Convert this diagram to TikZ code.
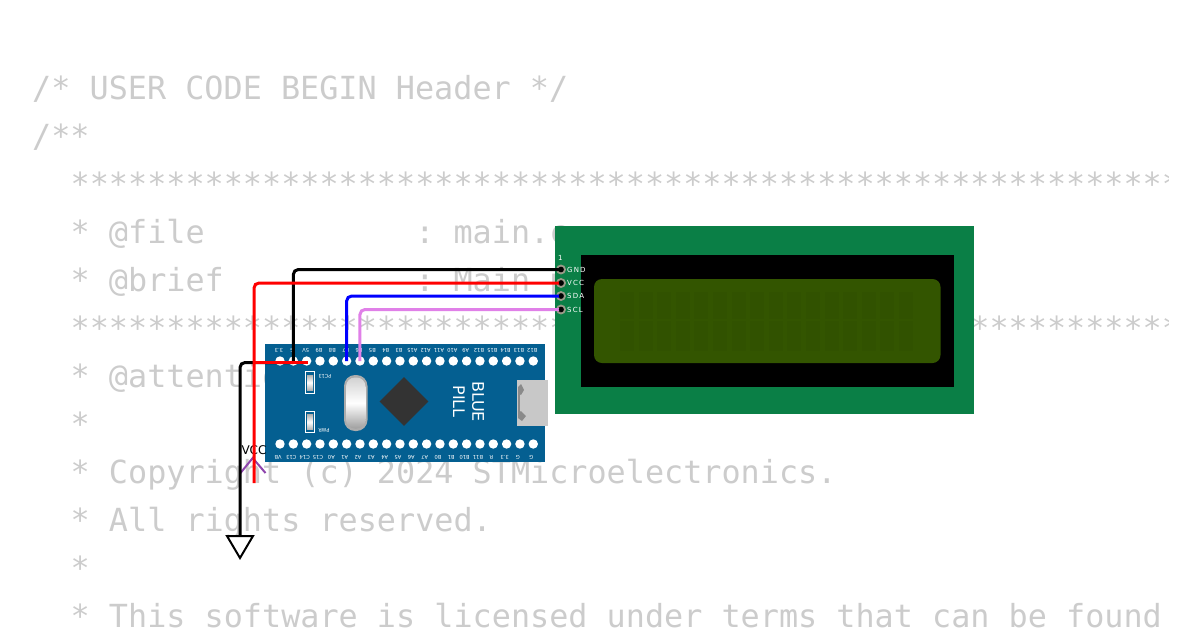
\documentclass[tikz,border=0pt]{standalone}
\usepackage{fontspec}
\setmainfont{DejaVu Sans}
\newfontfamily\monof{DejaVu Sans Mono}
\usetikzlibrary{shapes.geometric}
\definecolor{bgtext}{HTML}{CCCCCC}
\definecolor{pillblue}{HTML}{045F91}
\definecolor{lcdgreen}{HTML}{0A7F46}
\definecolor{lcdscreen}{HTML}{335500}
\definecolor{lcdcell}{HTML}{315200}
\definecolor{padgray}{HTML}{9A9A88}
\definecolor{usbgray}{HTML}{C8C8C8}
\definecolor{usbdark}{HTML}{8A8A8A}
\definecolor{chipdark}{HTML}{333333}
\definecolor{vccpurple}{HTML}{8E44AD}
\definecolor{sclpink}{HTML}{E080E8}
\tikzset{
  x=1pt,y=-1pt,
  codeline/.style={anchor=base west,inner sep=0,text=bgtext,font=\monof\frenchspacing\fontsize{31.8}{32}\selectfont},
  hole/.style={circle,fill=white,draw=none,minimum size=9.4pt,inner sep=0},
  toplabel/.style={rotate=180,inner sep=0,text=white,font=\fontsize{5.2}{6}\selectfont},
  silk/.style={inner sep=0,text=white},
  lcdpad/.style={circle,fill=black,draw=padgray,line width=1.8pt,minimum size=8pt,inner sep=0},
  paddot/.style={circle,fill=black,draw=none,minimum size=4.4pt,inner sep=0},
  lcdlabel/.style={anchor=west,inner sep=0,text=white,font=\fontsize{7}{7}\selectfont},
  wire/.style={line width=3pt,rounded corners=5pt},
  ledbox/.style={draw=white,line width=1pt,minimum width=9pt,minimum height=21.5pt,inner sep=0,fill=pillblue}
}
\begin{document}
\begin{tikzpicture}
\useasboundingbox (0,0) rectangle (1200,630);
\fill[white] (0,0) rectangle (1200,630);
% background code
\begin{scope}
\clip (0,0) rectangle (1168,630);
\node[codeline] (c1) at (32,99) {/* USER CODE BEGIN Header */};
\node[codeline] (c2) at (32,147) {/**};
\node[codeline] (c3) at (70.5,195) {**********************************************************};
\node[codeline] (c4) at (70.5,243) {* @file~~~~~~~~~~~: main.c};
\node[codeline] (c5) at (70.5,291) {* @brief~~~~~~~~~~: Main program body};
\node[codeline] (c6) at (70.5,339) {**********************************************************};
\node[codeline] (c7) at (70.5,387) {* @attention};
\node[codeline] (c8) at (70.5,435) {*};
\node[codeline] (c9) at (70.5,483) {* Copyright (c) 2024 STMicroelectronics.};
\node[codeline] (c10) at (70.5,531) {* All rights reserved.};
\node[codeline] (c11) at (70.5,579) {*};
\node[codeline] (c12) at (70.5,627) {* This software is licensed under terms that can be found};
\end{scope}
% LCD
\fill[lcdgreen] (555,226) rectangle (973.5,413.5);
\fill[black] (581,255) rectangle (954,387);
\fill[lcdscreen,rounded corners=8pt] (594,279) rectangle (940.5,363);
\foreach \i in {0,...,15}{
  \fill[lcdcell] ({620+\i*18.6},292) rectangle ({634+\i*18.6},319);
  \fill[lcdcell] ({620+\i*18.6},321) rectangle ({634+\i*18.6},351);
}
\node[lcdlabel] (one) at (558,258) {1};
\node[lcdpad] (gnd) at (561,269.5) {};
\node[lcdpad] (vcc) at (561,283) {};
\node[lcdpad] (sda) at (561,296) {};
\node[lcdpad] (scl) at (561,309.5) {};
\node[lcdlabel] (lg) at (567,269.5) {G\,N\,D};
\node[lcdlabel] (lv) at (567,282.5) {V\,C\,C};
\node[lcdlabel] (ls) at (567,296) {S\,D\,A};
\node[lcdlabel] (lc) at (567,309.5) {S\,C\,L};
% Blue pill
\fill[pillblue] (265,344) rectangle (545,462);
\foreach \i in {1,...,20}{
  \node[hole] (t\i) at ({280+(\i-1)*13.33},361) {};
  \node[hole] (b\i) at ({280+(\i-1)*13.33},444) {};
}
\foreach \i/\t in {1/3.3,2/G,3/5V,4/B9,5/B8,6/B7,7/B6,8/B5,9/B4,10/B3,11/A15,12/A12,13/A11,14/A10,15/A9,16/B12,17/B15,18/B14,19/B13,20/B12}{
  \node[toplabel] (tl\i) at ({279+(\i-1)*13.33},350) {\t};
}
\foreach \i/\t in {1/VB,2/C13,3/C14,4/C15,5/A0,6/A1,7/A2,8/A3,9/A4,10/A5,11/A6,12/A7,13/B0,14/B1,15/B10,16/B11,17/R,18/3.3,19/G,20/G}{
  \node[toplabel] (bl\i) at ({278+(\i-1)*13.33},457) {\t};
}
\node[ledbox] (led1) at (310,382.5) {};
\shade[top color=gray!60,bottom color=gray!60,middle color=white] (307,375) rectangle (313,390);
\node[ledbox] (led2) at (310,422) {};
\shade[top color=gray!60,bottom color=gray!60,middle color=white] (307,414.5) rectangle (313,429.5);
\node[silk,rotate=180,font=\fontsize{5}{5}\selectfont] (pc13) at (325,376.5) {PC13};
\node[silk,rotate=180,font=\fontsize{5}{5}\selectfont] (pwr) at (324,430) {PWR};
% crystal
\fill[gray!65,rounded corners=11pt] (344,375) rectangle (367.5,431);
\shade[top color=gray!35,bottom color=gray!75,middle color=white,rounded corners=9pt] (346,377.5) rectangle (365.5,428.5);
% chip
\node[diamond,fill=chipdark,minimum width=49pt,minimum height=49pt,inner sep=0,aspect=1] (chip) at (404,401.5) {};
\node[silk,rotate=-90,font=\fontsize{16}{16}\selectfont] (blue) at (478,401.5) {BLUE};
\node[silk,rotate=-90,font=\fontsize{16}{16}\selectfont] (pill) at (459,401.5) {PILL};
% usb
\fill[usbgray] (517,380) rectangle (548,426);
\fill[usbdark] (518,392) rectangle (520,414);
\fill[usbdark] (518,387) -- (521,384) -- (524,390) -- (521,395) -- (518,393) -- cycle;
\fill[usbdark] (518,413) -- (521,411) -- (526,416) -- (522,421) -- (518,418) -- cycle;
% power symbols
\coordinate (vtop) at (252.7,458);
\coordinate (vl) at (240.5,473);
\coordinate (vr) at (265.5,473);
\draw[vccpurple,line width=2pt] (vl) -- (vtop) -- (vr);
\node[inner sep=0,text=black,font=\fontsize{12}{12}\selectfont] (vcclabel) at (254,450) {VCC};
\coordinate (gndtop) at (240,536);
\draw[black,line width=2pt,fill=white,line join=miter] (227,536) -- (253,536) -- (240,558) -- cycle;
% wires
\coordinate (vccend) at (254,483);
\coordinate (redstart) at (307.5,362.5);
\draw[wire,black] (t2.center) |- (gnd.center);
\draw[wire,black] (t2.center |- redstart) -| (gndtop);
\draw[wire,red] (vcc.center) -| (vccend);
\draw[line width=3pt,red] (redstart) -- (redstart -| vccend);
\draw[wire,blue] (sda.center) -| (t6.center);
\draw[wire,sclpink] (scl.center) -| (t7.center);
\foreach \p in {gnd,vcc,sda,scl}{\node[paddot] (d\p) at (\p.center) {};}
\end{tikzpicture}
\end{document}
